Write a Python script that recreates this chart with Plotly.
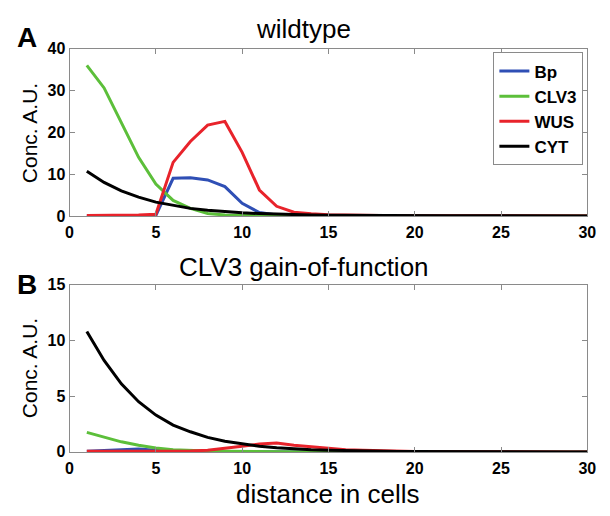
import plotly.graph_objects as go

# distance from the boundary, in cells
cells = list(range(1, 31))

# wildtype concentrations (A.U.)
wt_bp = [0.0, 0.0, 0.0, 0.0, 0.1, 9.0, 9.1, 8.6, 7.0, 3.0, 0.8, 0.2, 0.05, 0.02, 0.01,
         0, 0, 0, 0, 0, 0, 0, 0, 0, 0, 0, 0, 0, 0, 0]
wt_clv3 = [36.0, 30.6, 22.3, 14.0, 7.6, 3.7, 1.8, 0.6, 0.2, 0.08, 0.03, 0.01, 0, 0, 0,
           0, 0, 0, 0, 0, 0, 0, 0, 0, 0, 0, 0, 0, 0, 0]
wt_wus = [0.1, 0.1, 0.1, 0.2, 0.4, 12.8, 17.8, 21.7, 22.6, 15.2, 6.2, 2.3, 0.9, 0.5, 0.3,
          0.2, 0.12, 0.08, 0.05, 0.03, 0.02, 0.01, 0, 0, 0, 0, 0, 0, 0, 0]
wt_cyt = [10.7, 8.0, 6.0, 4.5, 3.3, 2.5, 1.8, 1.35, 1.0, 0.75, 0.55, 0.4, 0.3, 0.22, 0.16,
          0.12, 0.09, 0.07, 0.05, 0.04, 0.03, 0.02, 0.02, 0.01, 0.01, 0.01, 0, 0, 0, 0]

# CLV3 gain-of-function concentrations (A.U.)
gof_bp = [0.05, 0.1, 0.18, 0.25, 0.15, 0.06, 0.02, 0.01, 0, 0, 0, 0, 0, 0, 0,
          0, 0, 0, 0, 0, 0, 0, 0, 0, 0, 0, 0, 0, 0, 0]
gof_clv3 = [1.75, 1.3, 0.9, 0.6, 0.35, 0.2, 0.12, 0.08, 0.05, 0.03, 0.02, 0.01, 0.01, 0, 0,
            0, 0, 0, 0, 0, 0, 0, 0, 0, 0, 0, 0, 0, 0, 0]
gof_wus = [0.05, 0.05, 0.05, 0.05, 0.05, 0.05, 0.08, 0.15, 0.3, 0.5, 0.7, 0.8, 0.6, 0.45, 0.3,
           0.2, 0.15, 0.1, 0.05, 0.03, 0.02, 0.01, 0, 0, 0, 0, 0, 0, 0, 0]
gof_cyt = [10.8, 8.2, 6.1, 4.5, 3.3, 2.4, 1.8, 1.3, 0.95, 0.7, 0.5, 0.37, 0.27, 0.2, 0.15,
           0.11, 0.08, 0.06, 0.04, 0.03, 0.02, 0.02, 0.01, 0.01, 0.01, 0, 0, 0, 0, 0]

names = ["Bp", "CLV3", "WUS", "CYT"]
colors = ["#2f4fb5", "#5cbf3a", "#e8232b", "#000000"]
wt_series = [wt_bp, wt_clv3, wt_wus, wt_cyt]
gof_series = [gof_bp, gof_clv3, gof_wus, gof_cyt]

xticks = [0, 5, 10, 15, 20, 25, 30]
yticks_a = [0, 10, 20, 30, 40]
yticks_b = [0, 5, 10, 15]

W, H = 610, 516
FONT = "Liberation Sans, Arial, Helvetica"
fig = go.Figure()

for name, col, ys in zip(names, colors, wt_series):
    fig.add_trace(go.Scatter(x=cells, y=ys, mode="lines", name=name,
                             line=dict(color=col, width=3), xaxis="x", yaxis="y"))
for name, col, ys in zip(names, colors, gof_series):
    fig.add_trace(go.Scatter(x=cells, y=ys, mode="lines", name=name, showlegend=False,
                             line=dict(color=col, width=3), xaxis="x2", yaxis="y2"))

tickfont = dict(family=FONT, size=16, color="black", weight="bold")
axis_common = dict(showgrid=False, zeroline=False, showline=True, mirror="allticks",
                   linecolor="#8a8a8a", linewidth=1, ticks="inside", ticklen=5,
                   tickcolor="#8a8a8a", tickfont=tickfont)
xaxis_extra = dict(ticklabelstandoff=2)

xdom = [67 / W, 596 / W]
fig.update_layout(
    width=W, height=H,
    margin=dict(l=0, r=0, t=0, b=0),
    paper_bgcolor="white", plot_bgcolor="white",
    xaxis=dict(domain=xdom, range=[0, 30], tickvals=xticks, anchor="y",
               **axis_common, **xaxis_extra),
    yaxis=dict(domain=[1 - 215 / H, 1 - 42 / H], range=[0, 40], tickvals=yticks_a,
               anchor="x", **axis_common),
    xaxis2=dict(domain=xdom, range=[0, 30], tickvals=xticks, anchor="y2",
                **axis_common, **xaxis_extra),
    yaxis2=dict(domain=[1 - 459 / H, 1 - 286 / H], range=[0, 15], tickvals=yticks_b,
                anchor="x2", **axis_common),
    legend=dict(x=592 / W, y=1 - 46 / H, xanchor="right", yanchor="top",
                bgcolor="white", bordercolor="#8a8a8a", borderwidth=1,
                font=dict(family=FONT, size=17, color="black", weight="bold"),
                tracegroupgap=0),
    showlegend=True,
)

font_reg = dict(family=FONT, color="black")
annots = [
    dict(text="wildtype", x=306 / W, y=1 - 22 / H, font=dict(size=26, **font_reg)),
    dict(text="CLV3 gain-of-function", x=307 / W, y=1 - 268 / H, font=dict(size=26, **font_reg)),
    dict(text="distance in cells", x=331 / W, y=1 - 503 / H, font=dict(size=26, **font_reg)),
    dict(text="Conc. A.U.", x=26 / W, y=1 - 129 / H, textangle=-90, font=dict(size=21, **font_reg)),
    dict(text="Conc. A.U.", x=26 / W, y=1 - 372 / H, textangle=-90, font=dict(size=21, **font_reg)),
    dict(text="A", x=23 / W, y=1 - 31 / H, font=dict(size=28, weight="bold", **font_reg)),
    dict(text="B", x=23 / W, y=1 - 286 / H, font=dict(size=28, weight="bold", **font_reg)),
]
for a in annots:
    fig.add_annotation(xref="paper", yref="paper", showarrow=False,
                       xanchor="center", yanchor="middle", **a)

fig.write_html("out.html")
